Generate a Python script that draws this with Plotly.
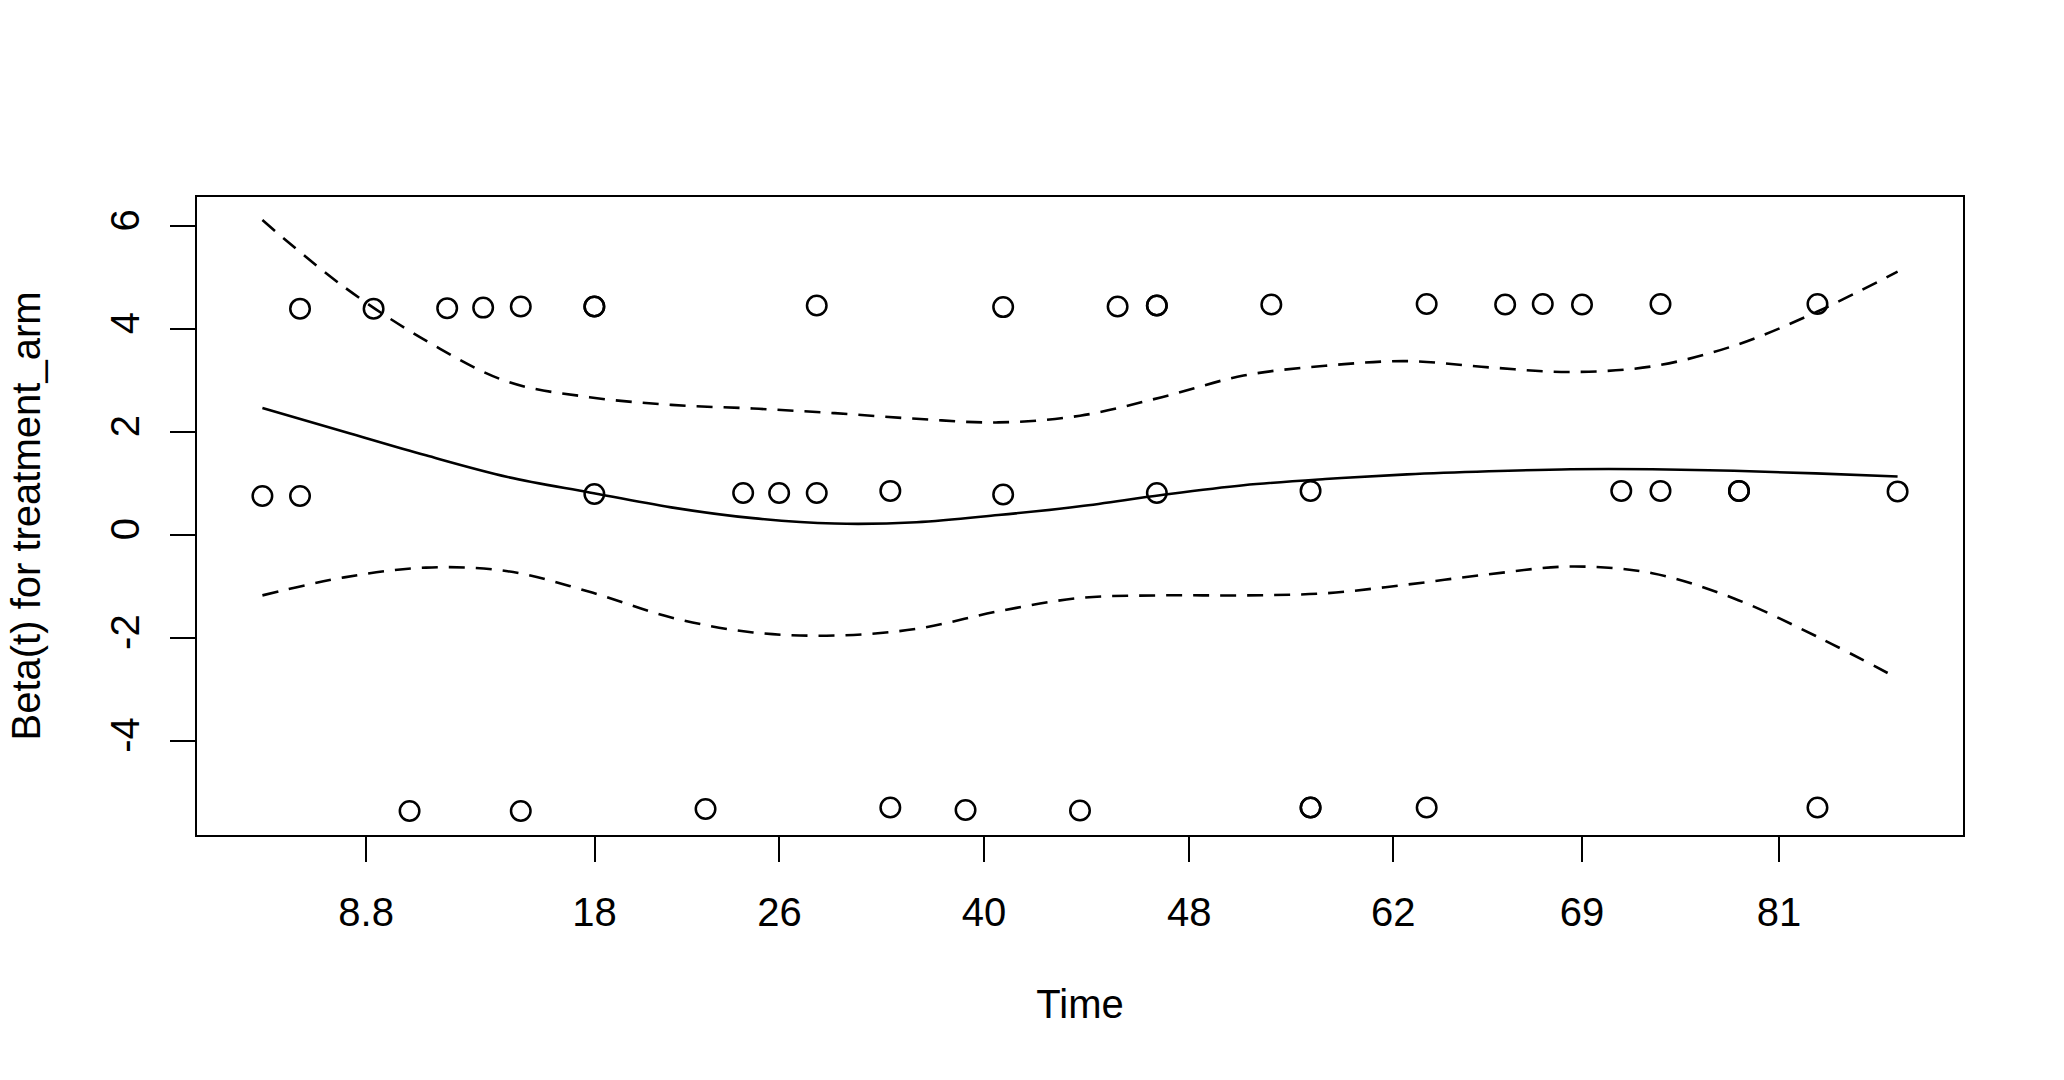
import plotly.graph_objects as go

# x axis: Kaplan-Meier transformed time (R cox.zph, transform="km"), labelled with times
tick_pos = [0.0634, 0.2031, 0.3162, 0.4413, 0.5668, 0.6915, 0.8070, 0.9274]
tick_labels = ["8.8", "18", "26", "40", "48", "62", "69", "81"]

# scaled Schoenfeld residuals for treatment_arm
resid_x = [0.000, 0.023, 0.023, 0.068, 0.090, 0.113, 0.135, 0.158, 0.158,
           0.203, 0.203, 0.203, 0.271, 0.294, 0.316, 0.339, 0.339, 0.384,
           0.384, 0.430, 0.453, 0.453, 0.500, 0.523, 0.547, 0.547, 0.547,
           0.617, 0.641, 0.641, 0.641, 0.712, 0.712, 0.760, 0.783, 0.807,
           0.831, 0.855, 0.855, 0.903, 0.903, 0.951, 0.951, 1.000]
resid_y = [0.76, 0.76, 4.40, 4.40, -5.36, 4.41, 4.42, 4.44, -5.36,
           4.44, 4.44, 0.80, -5.32, 0.82, 0.82, 0.82, 4.46, 0.86,
           -5.29, -5.34, 4.43, 0.79, -5.35, 4.44, 4.46, 4.46, 0.82,
           4.48, 0.86, -5.29, -5.29, 4.49, -5.29, 4.48, 4.49, 4.48,
           0.86, 4.49, 0.86, 0.86, 0.86, 4.49, -5.29, 0.85]

# smoothed beta(t) and its confidence band
fit_x = [0.00, 0.05, 0.10, 0.15, 0.20, 0.25, 0.30, 0.35, 0.40, 0.45, 0.50,
         0.55, 0.60, 0.65, 0.70, 0.75, 0.80, 0.85, 0.90, 0.95, 1.00]
fit_beta = [2.47, 2.01, 1.55, 1.13, 0.83, 0.54, 0.33, 0.225, 0.25, 0.39, 0.56,
            0.78, 0.97, 1.09, 1.18, 1.24, 1.28, 1.28, 1.25, 1.20, 1.14]
fit_upper = [6.12, 4.82, 3.78, 2.98, 2.68, 2.53, 2.46, 2.37, 2.26, 2.19, 2.32,
             2.68, 3.10, 3.29, 3.38, 3.26, 3.17, 3.28, 3.68, 4.33, 5.12]
fit_lower = [-1.17, -0.82, -0.63, -0.70, -1.10, -1.60, -1.89, -1.95, -1.82, -1.48, -1.22,
             -1.17, -1.17, -1.13, -0.96, -0.76, -0.61, -0.74, -1.23, -1.96, -2.78]

FONT = dict(family="Liberation Sans, Arial, sans-serif", size=40, color="black")

fig = go.Figure()
fig.add_trace(go.Scatter(
    x=resid_x, y=resid_y, mode="markers",
    marker=dict(symbol="circle-open", size=19.5, color="black", line=dict(width=2.5)),
    hoverinfo="skip"))
fig.add_trace(go.Scatter(
    x=fit_x, y=fit_beta, mode="lines",
    line=dict(color="black", width=2.6, shape="spline")))
for band in (fit_upper, fit_lower):
    fig.add_trace(go.Scatter(
        x=fit_x, y=band, mode="lines",
        line=dict(color="black", width=2.6, shape="spline", dash="16px,11px")))

axis_common = dict(
    showgrid=False, zeroline=False, showline=True, linewidth=2.4,
    linecolor="black", mirror=True, ticks="outside", ticklen=25,
    tickwidth=2.4, tickcolor="black", tickfont=FONT,
)

fig.update_layout(
    width=2064, height=1080,
    margin=dict(l=197, r=101, t=197, b=245),
    paper_bgcolor="white", plot_bgcolor="white",
    showlegend=False,
    font=FONT,
)
fig.update_xaxes(
    range=[-0.04, 1.04], tickmode="array", tickvals=tick_pos, ticktext=tick_labels,
    ticklabelstandoff=16,
    title=dict(text="Time", standoff=57, font=FONT),
    **axis_common)
fig.update_yaxes(
    range=[-5.825, 6.569], tickmode="array", tickvals=[-4, -2, 0, 2, 4, 6],
    ticktext=["-4", "-2", "0", "2", "4", "6"], tickangle=-90,
    ticklabelstandoff=15,
    title=dict(text="Beta(t) for treatment_arm", standoff=50, font=FONT),
    **axis_common)

fig.write_html("out.html", config={"displayModeBar": False},
               post_script="document.body.style.margin='0';document.body.style.overflow='hidden';")
